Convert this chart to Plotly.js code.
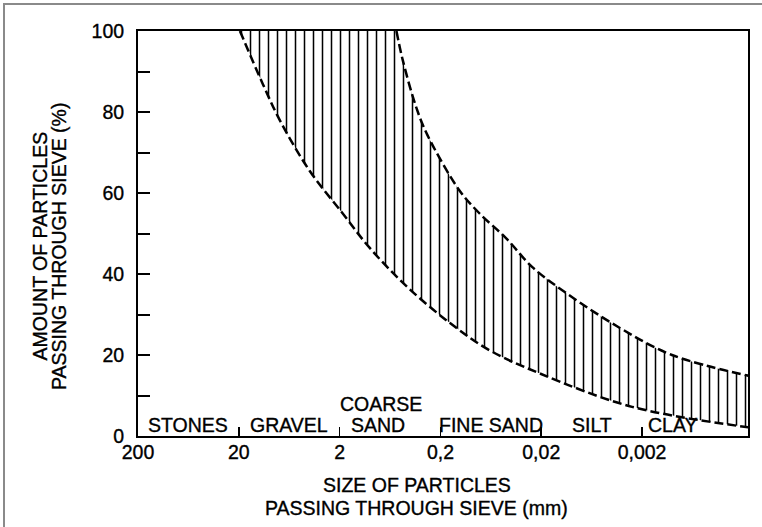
<!DOCTYPE html>
<html><head><meta charset="utf-8">
<script src="https://cdn.plot.ly/plotly-3.0.1.min.js"></script>
<style>
html,body{margin:0;padding:0;background:#fff;overflow:hidden;}
#chart{width:762px;height:527px;}
#frame{position:absolute;left:3px;top:3px;width:900px;height:700px;border-top:2px solid #8a8a8a;border-left:2px solid #8a8a8a;pointer-events:none;}
#chart text{stroke:#000;stroke-width:0.35px;}
</style></head><body>
<div id="chart"></div><div id="frame"></div>
<script>
// ---- data ----
const sizeTicks = [200, 20, 2, 0.2, 0.02, 0.002];
const sizeTickText = ['200', '20', '2', '0,2', '0,02', '0,002'];
const pctTicks = [0, 10, 20, 30, 40, 50, 60, 70, 80, 90, 100];
const pctTickText = ['0', '', '20', '', '40', '', '60', '', '80', '', '100'];

// upper (fine-side) boundary curve: particle size (mm) vs % passing
const upperSize = [0.546, 0.475, 0.346, 0.269, 0.130, 0.0822, 0.0445, 0.0245, 0.0113, 0.00338, 0.00101, 0.00017];
const upperPct  = [100, 93, 81, 74.3, 60.7, 55, 48.8, 41.7, 35.3, 26.8, 20, 14.8];

// lower (coarse-side) boundary curve
const lowerSize = [19.5, 11.6, 7.85, 3.97, 1.87, 1.01, 0.435, 0.163, 0.0655, 0.0209, 0.00251, 0.00017];
const lowerPct  = [100, 87, 78, 65.5, 55, 46.5, 37, 28, 21.2, 15.5, 7.2, 2.1];

// soil class labels (between consecutive size ticks)
const soilClasses = ['STONES', 'GRAVEL', 'COARSE<br>SAND', 'FINE SAND', 'SILT', 'CLAY'];

// ---- drawing ----
const FONT = 'Liberation Sans, Arial, Helvetica, sans-serif';
const FS = 19.5;
const dashLine = {color: '#000', width: 2.5, dash: '9px,4px', shape: 'spline', smoothing: 1};

const traces = [
  {x: upperSize, y: upperPct, type: 'scatter', mode: 'lines', line: dashLine,
   hoverinfo: 'skip', showlegend: false},
  {x: lowerSize, y: lowerPct, type: 'scatter', mode: 'lines', line: dashLine,
   fill: 'tonexty', fillcolor: 'rgba(255,255,255,0)',
   fillpattern: {shape: '|', fgcolor: '#000', bgcolor: 'rgba(255,255,255,0)', size: 9, solidity: 0.17},
   hoverinfo: 'skip', showlegend: false}
];

const annotations = [];
// class labels
const labelY = 2.7, upperLineY = 7.9;
soilClasses.forEach((name, i) => {
  const lo = sizeTicks[i];
  const hi = sizeTicks[i + 1];
  const common = {xref: 'x', yref: 'y', showarrow: false, yanchor: 'middle',
                  font: {family: FONT, size: FS, color: '#000'}};
  if (hi === undefined) {
    annotations.push(Object.assign({}, common, {text: name, x: Math.log10(lo), y: labelY, xanchor: 'left', xshift: 4}));
  } else {
    const mid = Math.log10(Math.sqrt(lo * hi));
    const parts = name.split('<br>');
    if (parts.length === 2) {
      annotations.push(Object.assign({}, common, {text: parts[0], x: mid, y: upperLineY, xanchor: 'center', xshift: -9}));
      annotations.push(Object.assign({}, common, {text: parts[1], x: mid, y: labelY, xanchor: 'center', xshift: -12}));
    } else {
      annotations.push(Object.assign({}, common, {text: name, x: mid, y: labelY, xanchor: 'center'}));
    }
  }
});
// axis titles (two tightly spaced lines each)
const tFont = {family: FONT, size: FS, color: '#000'};
annotations.push({text: 'SIZE OF PARTICLES', xref: 'paper', yref: 'paper', x: 0.457, y: -0.121,
                  xanchor: 'center', yanchor: 'middle', showarrow: false, font: tFont});
annotations.push({text: 'PASSING THROUGH SIEVE (mm)', xref: 'paper', yref: 'paper', x: 0.457, y: -0.178,
                  xanchor: 'center', yanchor: 'middle', showarrow: false, font: tFont});
annotations.push({text: 'AMOUNT OF PARTICLES', xref: 'paper', yref: 'paper', x: -0.160, y: 0.469,
                  xanchor: 'center', yanchor: 'middle', textangle: -90, showarrow: false, font: tFont});
annotations.push({text: 'PASSING THROUGH SIEVE (%)', xref: 'paper', yref: 'paper', x: -0.1295, y: 0.469,
                  xanchor: 'center', yanchor: 'middle', textangle: -90, showarrow: false, font: tFont});

const layout = {
  width: 762, height: 527,
  margin: {l: 138, r: 14, t: 31, b: 91, pad: 0},
  paper_bgcolor: '#fff', plot_bgcolor: '#fff',
  font: {family: FONT, size: FS, color: '#000'},
  showlegend: false,
  xaxis: {
    type: 'log', range: [Math.log10(200), -3.75], autorange: false,
    tickmode: 'array', tickvals: sizeTicks, ticktext: sizeTickText, tickangle: 0,
    ticks: 'inside', ticklen: 9, tickwidth: 1.5, tickcolor: '#000',
    showline: true, linewidth: 2, linecolor: '#000', mirror: true,
    showgrid: false, zeroline: false, ticklabelstandoff: -2,
    tickfont: {family: FONT, size: FS, color: '#000'}
  },
  yaxis: {
    range: [0, 100], autorange: false,
    tickmode: 'array', tickvals: pctTicks, ticktext: pctTickText,
    ticks: 'inside', ticklen: 12, tickwidth: 2, tickcolor: '#000',
    showline: true, linewidth: 2, linecolor: '#000', mirror: true,
    showgrid: false, zeroline: false, ticklabelstandoff: 8,
    tickfont: {family: FONT, size: FS, color: '#000'}
  },
  annotations: annotations
};

Plotly.newPlot('chart', traces, layout, {staticPlot: true, displayModeBar: false});
</script>
</body></html>
